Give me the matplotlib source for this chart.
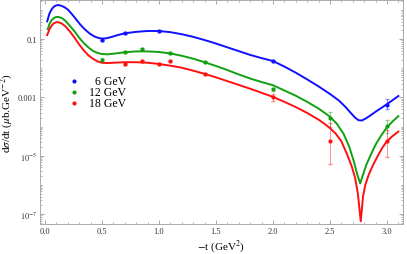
import numpy as np
import matplotlib
matplotlib.use('Agg')
import matplotlib.pyplot as plt
from matplotlib.ticker import FixedLocator, LogLocator, MultipleLocator, NullFormatter, FormatStrFormatter

plt.rcParams['font.family'] = ['Liberation Serif', 'DejaVu Serif']
plt.rcParams['mathtext.fontset'] = 'stix'

# model curves, given as log10 of dsigma/dt
t_blue = [0.02, 0.04, 0.06, 0.08, 0.10, 0.12, 0.14, 0.17, 0.20, 0.23, 0.27, 0.31, 0.35, 0.39,
          0.43, 0.47, 0.50, 0.54, 0.58, 0.63, 0.70, 0.80, 0.90, 1.00, 1.10, 1.20, 1.30, 1.40,
          1.50, 1.60, 1.70, 1.80, 1.90, 2.00, 2.10, 2.20, 2.30, 2.40, 2.50, 2.58, 2.64, 2.68,
          2.72, 2.75, 2.78, 2.81, 2.85, 2.90, 2.95, 3.00, 3.05, 3.10]
lg_blue = [-0.39, -0.12, 0.03, 0.12, 0.16, 0.17, 0.15, 0.10, 0.02, -0.11, -0.30, -0.50, -0.66, -0.80,
           -0.90, -0.96, -0.98, -0.97, -0.93, -0.87, -0.80, -0.75, -0.72, -0.72, -0.76, -0.83, -0.92, -1.03,
           -1.15, -1.28, -1.41, -1.54, -1.65, -1.75, -1.94, -2.15, -2.38, -2.62, -2.88, -3.11, -3.34, -3.52,
           -3.69, -3.78, -3.79, -3.73, -3.63, -3.49, -3.36, -3.23, -3.09, -2.95]

t_green = [0.025, 0.04, 0.06, 0.08, 0.10, 0.12, 0.15, 0.18, 0.22, 0.26, 0.30, 0.34, 0.38, 0.42,
           0.46, 0.50, 0.55, 0.60, 0.70, 0.80, 0.90, 1.00, 1.10, 1.20, 1.30, 1.40, 1.50, 1.60,
           1.70, 1.80, 1.90, 2.00, 2.10, 2.20, 2.30, 2.40, 2.50, 2.56, 2.62, 2.67, 2.71, 2.74,
           2.765, 2.79, 2.82, 2.86, 2.90, 2.95, 3.00, 3.05, 3.10]
lg_green = [-0.66, -0.48, -0.34, -0.27, -0.24, -0.24, -0.28, -0.37, -0.55, -0.73, -0.95, -1.13, -1.28, -1.40,
            -1.47, -1.51, -1.52, -1.50, -1.45, -1.42, -1.42, -1.44, -1.49, -1.57, -1.67, -1.79, -1.92, -2.06,
            -2.21, -2.35, -2.47, -2.58, -2.76, -2.94, -3.15, -3.38, -3.66, -3.90, -4.25, -4.70, -5.20, -5.65,
            -5.95, -5.65, -5.30, -4.95, -4.62, -4.30, -4.02, -3.82, -3.64]

t_red = [0.02, 0.04, 0.06, 0.08, 0.10, 0.12, 0.15, 0.18, 0.22, 0.26, 0.30, 0.34, 0.38, 0.42,
         0.46, 0.50, 0.55, 0.60, 0.70, 0.80, 0.90, 1.00, 1.10, 1.20, 1.30, 1.40, 1.50, 1.60,
         1.70, 1.80, 1.90, 2.00, 2.10, 2.20, 2.30, 2.40, 2.45, 2.50, 2.55, 2.60, 2.65, 2.69,
         2.72, 2.745, 2.77, 2.79, 2.81, 2.84, 2.88, 2.92, 2.96, 3.00, 3.05, 3.10]
lg_red = [-0.86, -0.66, -0.53, -0.45, -0.42, -0.42, -0.47, -0.56, -0.74, -0.95, -1.18, -1.38, -1.55, -1.67,
          -1.76, -1.81, -1.82, -1.81, -1.79, -1.79, -1.81, -1.85, -1.91, -1.98, -2.08, -2.19, -2.31, -2.44,
          -2.57, -2.70, -2.84, -2.98, -3.15, -3.33, -3.53, -3.76, -3.90, -4.05, -4.24, -4.50, -4.95, -5.35,
          -5.75, -6.30, -7.25, -6.40, -6.00, -5.65, -5.30, -5.00, -4.72, -4.50, -4.32, -4.17]

# data points (value, lower end, upper end)
x_b = [0.5, 0.7, 1.0, 2.0, 3.0]
y_b = [0.09, 0.16, 0.19, 0.018, 5.6e-4]
lo_b = [0.085, 0.15, 0.18, 0.016, 4.1e-4]
hi_b = [0.095, 0.17, 0.20, 0.020, 8.9e-4]

x_g = [0.5, 0.7, 0.85, 1.1, 1.4, 2.0, 2.5, 3.0]
y_g = [0.019, 0.036, 0.045, 0.033, 0.0164, 0.0019, 2.0e-4, 1.07e-4]
lo_g = [0.016, 0.033, 0.042, 0.031, 0.015, 0.0017, 1.0e-4, 6.0e-5]
hi_g = [0.022, 0.039, 0.048, 0.035, 0.0178, 0.0021, 3.2e-4, 1.7e-4]

x_r = [0.7, 0.85, 1.0, 1.1, 1.4, 2.0, 2.5, 3.0]
y_r = [0.014, 0.018, 0.014, 0.018, 0.0064, 0.001, 3.3e-5, 3.3e-5]
lo_r = [0.013, 0.017, 0.013, 0.017, 0.0058, 7.5e-4, 5.4e-6, 9.3e-6]
hi_r = [0.015, 0.019, 0.015, 0.019, 0.0070, 1.3e-3, 1.3e-4, 7.9e-5]

labels = ['  6 GeV', '12 GeV', '18 GeV']
colors = ['#1010ff', '#10a010', '#ff1010']

fig = plt.figure(figsize=(4.07, 2.55), dpi=100)
ax = fig.add_axes([0.098, 0.118, 0.892, 0.878])

curves = [(t_blue, lg_blue), (t_green, lg_green), (t_red, lg_red)]
points = [(x_b, y_b, lo_b, hi_b), (x_g, y_g, lo_g, hi_g), (x_r, y_r, lo_r, hi_r)]
handles = []
for (t, lg), (x, y, lo, hi), c, lab in zip(curves, points, colors, labels):
    ax.plot(t, 10.0 ** np.array(lg), color=c, lw=1.4, zorder=3, solid_joinstyle='round')
    y = np.array(y)
    err = [y - np.array(lo), np.array(hi) - y]
    ax.errorbar(x, y, yerr=err, fmt='none', ecolor=c, alpha=0.45, lw=0.7, capsize=1.2, zorder=2)
    h = ax.scatter(x, y, s=9, color=c, zorder=4, label=lab, linewidths=0)
    handles.append(h)

ax.set_yscale('log')
ax.set_xlim(-0.044, 3.14)
ax.set_ylim(4.6e-8, 2.2)

ax.xaxis.set_major_locator(MultipleLocator(0.5))
ax.xaxis.set_minor_locator(MultipleLocator(0.1))
ax.xaxis.set_major_formatter(FormatStrFormatter('%.1f'))
ax.yaxis.set_major_locator(FixedLocator([1e-7, 1e-5, 1e-3, 1e-1]))
ax.set_yticklabels([r'$10^{-7}$', r'$10^{-5}$', '0.001', '0.1'])
ax.yaxis.set_minor_locator(LogLocator(base=10, subs=np.arange(1, 10), numticks=20))
ax.yaxis.set_minor_formatter(NullFormatter())

ax.tick_params(which='both', direction='in', top=True, right=True, colors='#999999',
               labelcolor='#333333', labelsize=6, pad=2)
ax.tick_params(which='major', length=3, width=0.6)
ax.tick_params(which='minor', length=1.5, width=0.5)
for sp in ax.spines.values():
    sp.set_color('#aaaaaa')
    sp.set_linewidth(0.7)

ax.set_xlabel(r'$-$t (GeV$^2$)', fontsize=8, labelpad=2)
ax.set_ylabel(r'd$\sigma$/dt ($\mu$b.GeV$^{-2}$)', fontsize=8, labelpad=2)

ax.legend(handles=handles, loc='upper left', bbox_to_anchor=(0.04, 0.70), frameon=False,
          fontsize=8.5, handletextpad=0.2, labelspacing=-0.1, borderpad=0.2, markerscale=1.0)

fig.savefig('out.png', dpi=100)
